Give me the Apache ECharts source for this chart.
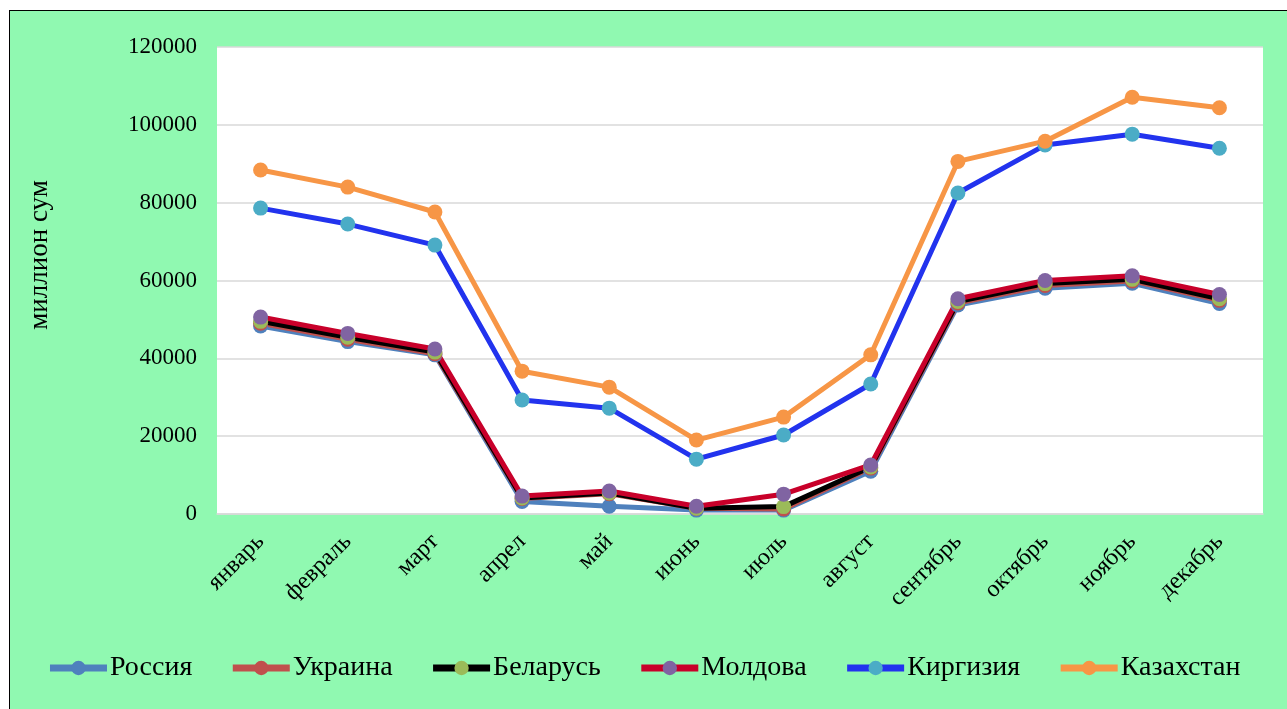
<!DOCTYPE html>
<html><head><meta charset="utf-8">
<script src="https://cdn.jsdelivr.net/npm/echarts@6/dist/echarts.min.js"></script>
<style>
html,body{margin:0;padding:0;background:#fff;width:1287px;height:709px;overflow:hidden;}
#bg{position:absolute;left:9px;top:10px;width:1300px;height:720px;background:#90f9b1;border:1.5px solid #000;box-sizing:border-box;}
#chart{position:absolute;left:0;top:0;width:1287px;height:709px;}
</style></head>
<body><div id="bg"></div><div id="chart"></div>
<script>
const months = ['январь','февраль','март','апрел','май','июнь','июль','август','сентябрь','октябрь','ноябрь','декабрь'];
const russia     = [48300, 44300, 40900, 3200, 2000, 1000, 1000, 11000, 53700, 58000, 59300, 54100];
const ukraine    = [49000, 44900, 41200, 4000, 5200, 1500, 1300, 11800, 54200, 58700, 59900, 54900];
const belarus    = [49500, 45400, 41600, 4100, 5400, 1500, 1900, 12100, 54600, 59200, 60300, 55300];
const moldova    = [50600, 46400, 42400, 4600, 5900, 2000, 5100, 12600, 55300, 60000, 61200, 56400];
const kirgizia   = [78600, 74500, 69100, 29300, 27200, 14100, 20300, 33400, 82500, 94800, 97600, 94000];
const kazakhstan = [88400, 84000, 77600, 36700, 32600, 19000, 24900, 40900, 90600, 95800, 107100, 104400];
const yTicks = [0, 20000, 40000, 60000, 80000, 100000, 120000];
const yTitle = 'миллион сум';

const font = 'Liberation Serif';
function s(name, data, lineColor, markColor){
  return {name, type:'line', data, symbol:'circle', symbolSize:15,
    lineStyle:{color:lineColor, width:5}, itemStyle:{color:markColor},
    emphasis:{disabled:true}};
}
const chart = echarts.init(document.getElementById('chart'));
chart.setOption({
  backgroundColor:'transparent',
  animation:false,
  textStyle:{fontFamily:font},
  grid:{left:217, right:24, top:47, bottom:195, show:true, backgroundColor:'#fff', borderWidth:0},
  graphic:[{type:'text', x:40, y:255, rotation:Math.PI/2,
    style:{text:yTitle, font:'27px "Liberation Serif"', fill:'#000', align:'center', verticalAlign:'middle'}}],
  legend:{top:649, left:'center', itemWidth:57, itemHeight:18, itemGap:37,
    lineStyle:{width:7},
    textStyle:{fontFamily:font, fontSize:28, color:'#000', padding:[0,0,0,-2]},
    data:['Россия','Украина','Беларусь','Молдова','Киргизия','Казахстан']},
  xAxis:{type:'category', data:months, boundaryGap:true,
    axisLine:{lineStyle:{color:'#d9d9d9', width:1.5}}, axisTick:{show:false},
    axisLabel:{rotate:45, fontSize:24, color:'#000', fontFamily:font, margin:24, interval:0}},
  yAxis:{type:'value', min:yTicks[0], max:yTicks[yTicks.length-1], interval:20000,
    axisLine:{show:false}, axisTick:{show:false},
    splitLine:{lineStyle:{color:'#d9d9d9', width:1.5}},
    axisLabel:{fontSize:23, color:'#000', fontFamily:font, margin:20, formatter:v=>String(v)}},
  series:[
    s('Россия', russia, '#4f81bd', '#4f81bd'),
    s('Украина', ukraine, '#c0504d', '#c0504d'),
    s('Беларусь', belarus, '#000000', '#9bbb59'),
    s('Молдова', moldova, '#c8002a', '#8064a2'),
    s('Киргизия', kirgizia, '#2233ee', '#4bacc6'),
    s('Казахстан', kazakhstan, '#f79646', '#f79646')
  ]
});
</script></body></html>
